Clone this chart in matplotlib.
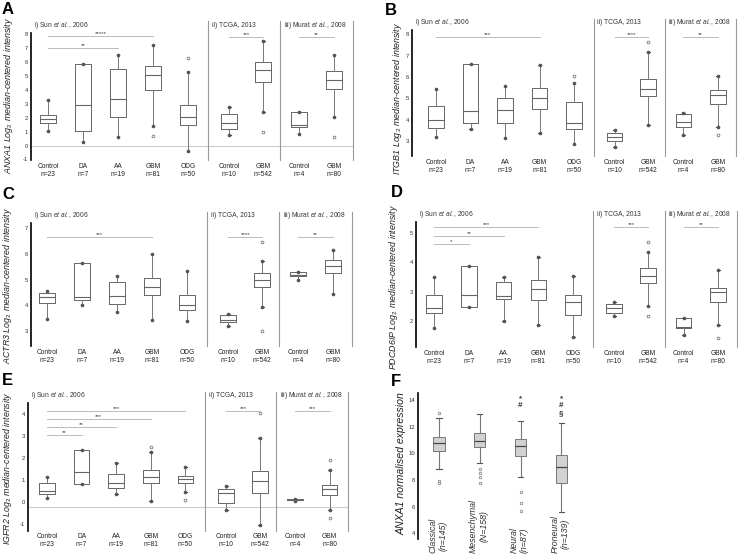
import matplotlib.pyplot as plt
from matplotlib.transforms import blended_transform_factory

plt.rcParams['font.family'] = ['Liberation Sans', 'DejaVu Sans']
plt.rcParams['mathtext.fontset'] = 'custom'
plt.rcParams['mathtext.rm'] = 'Liberation Sans'
plt.rcParams['mathtext.it'] = 'Liberation Sans:italic'

W, H = 738, 554

# groups shared by panels A-E
groups = ["Control", "DA", "AA", "GBM", "ODG", "Control", "GBM", "Control", "GBM"]
sizes = [23, 7, 19, 81, 50, 10, 542, 4, 80]
studies = [r"i) Sun $\it{et\ al.}$, 2006", "ii) TCGA, 2013", r"iii) Murat $\it{et\ al.}$, 2008"]

# [whisker low, q1, median, q3, whisker high]
anxa1 = [[1.07, 1.6, 1.9, 2.2, 3.28], [0.28, 1.07, 2.9, 5.87, 5.87], [0.64, 2.03, 3.32, 5.53, 6.54],
         [1.4, 4.0, 5.05, 5.75, 7.23], [-0.39, 1.45, 2.03, 2.94, 5.27], [0.76, 1.17, 1.6, 2.24, 2.8],
         [2.41, 4.57, 5.46, 6.0, 7.54], [0.83, 1.36, 1.48, 2.41, 2.41], [2.03, 4.07, 4.71, 5.39, 6.54]]
anxa1_out = [[], [], [], [0.66], [6.3], [], [1.0], [], [0.61]]
anxa1_sig = [(0, 3, 7.9, "*****"), (0, 2, 7.0, "**"), (5, 6, 7.78, "***"), (7, 8, 7.78, "**")]

itgb1 = [[3.22, 3.61, 3.98, 4.65, 5.43], [3.56, 3.84, 4.4, 6.61, 6.61], [3.17, 3.87, 4.45, 5.04, 5.59],
         [3.39, 4.51, 5.04, 5.51, 6.57], [2.88, 3.56, 3.84, 4.82, 5.71], [2.75, 3.0, 3.22, 3.4, 3.53],
         [3.76, 5.1, 5.46, 5.93, 7.19], [3.3, 3.67, 3.89, 4.28, 4.31], [3.69, 4.73, 5.17, 5.4, 6.07]]
itgb1_out = [[], [], [], [], [6.04], [], [7.66], [], [3.3]]
itgb1_sig = [(0, 3, 7.86, "***"), (5, 6, 7.86, "****"), (7, 8, 7.86, "**")]

actr3 = [[3.46, 4.08, 4.30, 4.46, 4.55], [4.0, 4.19, 4.33, 5.63, 5.63], [3.72, 4.03, 4.34, 4.92, 5.15],
         [3.43, 4.38, 4.69, 5.05, 6.0], [3.39, 3.79, 4.0, 4.39, 5.33], [3.18, 3.33, 3.42, 3.61, 3.64],
         [3.91, 4.72, 4.97, 5.24, 5.72], [5.0, 5.12, 5.18, 5.28, 5.28], [4.45, 5.27, 5.53, 5.76, 6.17]]
actr3_out = [[], [], [], [], [], [], [6.45, 3.0], [], []]
actr3_sig = [(0, 3, 6.67, "***"), (5, 6, 6.67, "****"), (7, 8, 6.67, "**")]

pdcd6ip = [[1.77, 2.28, 2.44, 2.87, 3.49], [2.46, 2.46, 2.9, 3.87, 3.87], [2.0, 2.75, 2.84, 3.34, 3.49],
           [1.86, 2.71, 3.07, 3.38, 4.18], [1.46, 2.21, 2.66, 2.88, 3.54], [2.18, 2.28, 2.45, 2.58, 2.66],
           [2.52, 3.28, 3.54, 3.79, 4.35], [1.53, 1.77, 1.81, 2.09, 2.09], [1.86, 2.63, 3.0, 3.13, 3.73]]
pdcd6ip_out = [[], [], [], [], [], [], [4.67, 2.18], [], [1.43]]
pdcd6ip_sig = [(0, 3, 5.18, "***"), (0, 2, 4.89, "**"), (0, 1, 4.61, "*"),
               (5, 6, 5.18, "***"), (7, 8, 5.18, "**")]

igfr2 = [[0.2, 0.37, 0.52, 0.85, 1.13], [0.81, 0.81, 1.36, 2.37, 2.37], [0.37, 0.64, 0.85, 1.26, 1.78],
         [0.06, 0.87, 1.14, 1.46, 2.3], [0.47, 0.87, 1.05, 1.2, 1.61], [-0.36, -0.06, 0.4, 0.58, 0.72],
         [-1.06, 0.4, 0.95, 1.4, 2.9], [0.06, 0.08, 0.11, 0.15, 0.15], [-0.36, 0.31, 0.6, 0.76, 1.46]]
igfr2_out = [[], [], [], [2.5], [0.11], [], [4.08], [], [1.9, -0.72]]
igfr2_sig = [(0, 4, 4.15, "***"), (0, 3, 3.79, "***"), (0, 2, 3.44, "**"), (0, 1, 3.06, "**"),
             (5, 6, 4.15, "***"), (7, 8, 4.15, "***")]

# panel F
subtypes = ["Classical", "Mesenchymal", "Neural", "Proneural"]
subtype_n = ["(n=145)", "(N=158)", "(n=87)", "(n=139)"]
subtype_stats = [[8.8, 10.2, 10.75, 11.2, 12.68], [9.25, 10.5, 10.95, 11.5, 12.93],
                 [8.2, 9.78, 10.58, 11.05, 12.45], [5.63, 7.75, 9.0, 9.9, 12.25]]
subtype_out = [[13.0, 7.9, 7.75], [8.8, 8.55, 8.2, 7.75], [7.13, 6.3, 5.7], []]
subtype_marks = [[], [], ["*", "#"], ["*", "#", "§"]]

positions = [1, 2, 3, 4, 5, 6.18, 7.15, 8.17, 9.17]
dividers = [5.58, 7.63, 9.7]

fig = plt.figure(figsize=(W / 100, H / 100), dpi=100)


def px_axes(left, right, top, bottom):
    return fig.add_axes([left / W, 1 - bottom / H, (right - left) / W, (bottom - top) / H])


def to_stats(rows, outs):
    return [dict(whislo=r[0], q1=r[1], med=r[2], q3=r[3], whishi=r[4], fliers=o)
            for r, o in zip(rows, outs)]


def box_panel(letter, gene, rows, outs, sigs, left, ctrl, scale, y0, v0, ppu, ylim, yticks,
              lab_x, lab_y, let_x, let_y, base=None):
    # y pixel = y0 + (v0 - v) * ppu
    x_lo = 1 - (ctrl - left) / scale
    x_hi = 9.72
    right = ctrl + (x_hi - 1) * scale
    top = y0 + (v0 - ylim[1]) * ppu
    bottom = y0 + (v0 - ylim[0]) * ppu
    ax = px_axes(left, right, top, bottom)
    ax.bxp(to_stats(rows, outs), positions=positions, widths=0.45, showfliers=True,
           boxprops=dict(color="#666666", lw=0.7),
           whiskerprops=dict(color="#777777", lw=0.7),
           capprops=dict(color="#555555", lw=0.8), capwidths=0.08,
           medianprops=dict(color="#666666", lw=0.8),
           flierprops=dict(marker="o", ms=2, mfc="white", mec="#777777", mew=0.6))
    for p, r in zip(positions, rows):
        ax.plot([p, p], [r[0], r[4]], ls="none", marker="o", ms=1.6, color="#555555")
    if base is not None:
        ax.axhline(base, color="#cccccc", lw=0.8, zorder=0)
    for i, j, y, stars in sigs:
        ax.plot([positions[i], positions[j]], [y, y], color="#bbbbbb", lw=0.7)
        ax.text((positions[i] + positions[j]) / 2, y, stars, ha="center", va="bottom",
                fontsize=4.5, color="#444444")
    tr = blended_transform_factory(ax.transData, ax.transAxes)
    for d in dividers:
        ax.plot([d, d], [0, 1.09], color="#999999", lw=0.8, transform=tr, clip_on=False)
    for k, d in enumerate([x_lo, dividers[0], dividers[1]]):
        ax.text(d + 0.1, 1.06, studies[k], transform=tr, fontsize=4.8, color="#333333",
                ha="left", va="center")
    ax.set_xlim(x_lo, x_hi)
    ax.set_ylim(*ylim)
    ax.set_yticks(yticks)
    ax.set_yticklabels([str(t) for t in yticks], fontsize=4.2, color="#333333")
    ax.set_xticks(positions)
    ax.set_xticklabels([f"{g}\nn={n}" for g, n in zip(groups, sizes)], fontsize=4.8,
                       color="#222222", linespacing=1.2)
    ax.tick_params(length=0, pad=2)
    for s in ["top", "right", "bottom"]:
        ax.spines[s].set_visible(False)
    ax.spines["left"].set_linewidth(1.2)
    fig.text(lab_x / W, 1 - lab_y / H, gene + r" Log$_2$ median-centered intensity",
             rotation=90, ha="center", va="center", fontsize=6.4, style="italic", color="#222222")
    fig.text(let_x / W, 1 - let_y / H, letter, fontsize=12, fontweight="bold", ha="left", va="top")
    return ax


box_panel("A", "ANXA1", anxa1, anxa1_out, anxa1_sig, 31, 48, 35, 34.3, 8, 13.9, (-1.05, 8.1),
          list(range(-1, 9)), 9, 95, 2, 2, base=0)
box_panel("B", "ITGB1", itgb1, itgb1_out, itgb1_sig, 412, 436, 34.5, 34.3, 8, 21.4, (2.3, 8.2),
          list(range(3, 9)), 397, 98, 385, 3)
box_panel("C", "ACTR3", actr3, actr3_out, actr3_sig, 31, 47, 35, 228.3, 7, 25.6, (2.4, 7.2),
          list(range(3, 8)), 8, 285, 2, 187)
box_panel("D", "PDCD6IP", pdcd6ip, pdcd6ip_out, pdcd6ip_sig, 416, 434, 34.8, 232.7, 5, 29.43,
          (1.1, 5.37), list(range(2, 6)), 394, 287, 391, 185)
box_panel("E", "IGFR2", igfr2, igfr2_out, igfr2_sig, 28, 47, 34.6, 414.3, 4, 21.93, (-1.3, 4.5),
          list(range(-1, 5)), 8, 468, 2, 373, base=-0.23)

# panel F
f_pos = [1, 2, 3, 4]
f_left, f_ctrl, f_scale = 418, 439, 40.8
f_ylim = (3.6, 14.5)
f_y0, f_v0, f_ppu = 400, 14, 13.33
f_xlo = 1 - (f_ctrl - f_left) / f_scale
f_xhi = 4.9
axf = px_axes(f_left, f_ctrl + (f_xhi - 1) * f_scale,
              f_y0 + (f_v0 - f_ylim[1]) * f_ppu, f_y0 + (f_v0 - f_ylim[0]) * f_ppu)
axf.bxp(to_stats(subtype_stats, subtype_out), positions=f_pos, widths=0.27, patch_artist=True,
        boxprops=dict(facecolor="#d2d2d2", edgecolor="#777777", lw=0.7),
        whiskerprops=dict(color="#777777", lw=0.8),
        capprops=dict(color="#555555", lw=0.8), capwidths=0.13,
        medianprops=dict(color="#444444", lw=0.9),
        flierprops=dict(marker="o", ms=1.8, mfc="white", mec="#888888", mew=0.6))
for p, marks in zip(f_pos, subtype_marks):
    for k, m in enumerate(marks):
        axf.text(p, 14.12 - k * 0.57, m, ha="center", va="center", fontsize=5.8,
                 color="#333333", fontweight="bold")
for p, name, n in zip(f_pos, subtypes, subtype_n):
    axf.text(p - 0.03, 2.52, f"{name}\n{n}", rotation=90, ha="center", va="bottom",
             fontsize=6.3, style="italic", color="#333333", clip_on=False)
axf.set_xlim(f_xlo, f_xhi)
axf.set_ylim(*f_ylim)
axf.set_yticks([4, 6, 8, 10, 12, 14])
axf.set_yticklabels(["4", "6", "8", "10", "12", "14"], fontsize=4.2, color="#333333")
axf.set_xticks([])
axf.tick_params(length=0, pad=2)
for s in ["top", "right", "bottom"]:
    axf.spines[s].set_visible(False)
axf.spines["left"].set_linewidth(1.2)
fig.text(402 / W, 1 - 464 / H, "ANXA1 normalised expression", rotation=90, ha="center",
         va="center", fontsize=7.6, style="italic", color="#222222")
fig.text(391 / W, 1 - 374 / H, "F", fontsize=12, fontweight="bold", ha="left", va="top")

fig.savefig("out.png", dpi=100)
